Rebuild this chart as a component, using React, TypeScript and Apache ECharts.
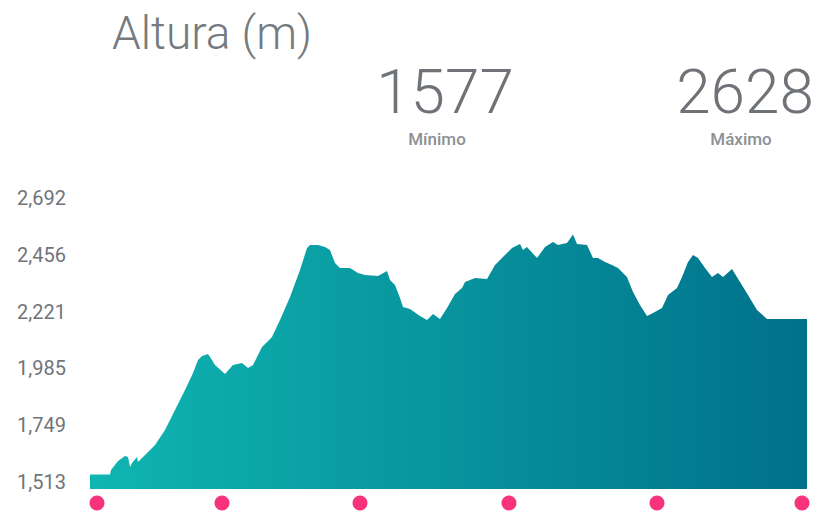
import React, { useEffect, useRef } from "react";
import * as echarts from "echarts";

// distance along the route (km) and elevation (m)
const DIST_KM = [
  0, 0.8, 0.84, 1.12, 1.4, 1.52, 1.6, 1.68, 1.88, 1.92, 2.08, 2.32, 2.6, 3.0, 3.4, 3.8, 4.12, 4.32, 4.48, 4.72,
  4.88, 5.0, 5.4, 5.72, 6.08, 6.32, 6.52, 6.88, 7.28, 7.6, 8.0, 8.4, 8.68, 8.8, 9.12, 9.4, 9.6, 9.8, 10.0, 10.4,
  10.72, 11.0, 11.52, 11.88, 12.0, 12.2, 12.4, 12.52, 12.8, 13.2, 13.48, 13.72, 14.0, 14.28, 14.6, 14.88, 15.0,
  15.4, 15.88, 16.2, 16.52, 16.88, 17.2, 17.32, 17.48, 17.88, 18.2, 18.52, 18.72, 19.08, 19.32, 19.48, 19.88,
  20.12, 20.32, 20.6, 20.88, 21.12, 21.48, 21.72, 22.0, 22.28, 22.52, 22.88, 23.12, 23.48, 23.68, 23.92, 24.12,
  24.32, 24.6, 24.88, 25.12, 25.32, 25.68, 26.0, 26.32, 26.68, 27.08, 28.68,
];
const ELEVATION_M = [
  1577, 1577, 1596, 1636, 1658, 1653, 1609, 1627, 1653, 1631, 1649, 1675, 1706, 1772, 1859, 1947, 2021, 2078, 2096, 2105,
  2078, 2056, 2017, 2056, 2065, 2043, 2056, 2135, 2179, 2254, 2355, 2473, 2569, 2582, 2582, 2574, 2560, 2504, 2482, 2482,
  2460, 2451, 2447, 2468, 2429, 2407, 2350, 2311, 2302, 2271, 2254, 2280, 2258, 2306, 2368, 2394, 2420,
  2438, 2433, 2495, 2530, 2569, 2587, 2560, 2574, 2525, 2574, 2596, 2582, 2591, 2628, 2587, 2582,
  2525, 2525, 2508, 2495, 2482, 2442, 2376, 2319, 2271, 2284, 2306, 2363, 2394, 2442, 2508, 2539,
  2525, 2482, 2442, 2460, 2442, 2477, 2420, 2363, 2298, 2258, 2258,
];
// waypoint markers (km)
const MARKER_KM = [0.28, 5.28, 10.8, 16.76, 22.68, 28.48];
const Y_TICK_LABELS = ["1,513", "1,749", "1,985", "2,221", "2,456", "2,692"];
const Y_MIN = 1513;
const Y_MAX = 2692;
const MIN_LABEL = "1577";
const MAX_LABEL = "2628";
const TITLE = "Altura (m)";

export default function App() {
  const ref = useRef<HTMLDivElement>(null);

  useEffect(() => {
    if (!ref.current) return;
    const chart = echarts.init(ref.current, null, { renderer: "svg" });
    const totalKm = DIST_KM[DIST_KM.length - 1];
    const span = Y_MAX - Y_MIN;
    const step = span / (Y_TICK_LABELS.length - 1);
    const font = "Roboto, 'Noto Sans', sans-serif";

    const bigNum = (text: string, x: number) => ({
      type: "text",
      x,
      y: 91,
      style: {
        text,
        font: `300 62px ${font}`,
        fill: "#6f7378",
        align: "center",
        verticalAlign: "middle",
      },
    });
    const caption = (text: string, x: number) => ({
      type: "text",
      x,
      y: 138.5,
      style: {
        text,
        font: `500 17px ${font}`,
        fill: "#8d9094",
        align: "center",
        verticalAlign: "middle",
      },
    });

    chart.setOption({
      animation: false,
      grid: [
        { left: 74, width: 10, top: 198, height: 284 },
        { left: 90, right: 18, top: 220, height: 269 },
        { left: 90, right: 18, top: 496, height: 14 },
      ],
      xAxis: [
        { gridIndex: 0, type: "value", show: false, min: 0, max: 1 },
        { gridIndex: 1, type: "value", show: false, min: 0, max: totalKm },
        { gridIndex: 2, type: "value", show: false, min: 0, max: totalKm },
      ],
      yAxis: [
        {
          gridIndex: 0,
          type: "value",
          min: 0,
          max: span,
          interval: step,
          axisLine: { show: false },
          axisTick: { show: false },
          splitLine: { show: false },
          axisLabel: {
            margin: 8,
            color: "#6f747a",
            fontSize: 20,
            fontFamily: font,
            formatter: (_v: number, i: number) => Y_TICK_LABELS[i],
          },
        },
        { gridIndex: 1, type: "value", show: false, min: Y_MIN, max: Y_MAX },
        { gridIndex: 2, type: "value", show: false, min: 0, max: 1 },
      ],
      graphic: [
        {
          type: "text",
          left: 112,
          top: 10,
          style: { text: TITLE, font: `300 46px ${font}`, fill: "#757a80" },
        },
        bigNum(MIN_LABEL, 445),
        caption("Mínimo", 437),
        bigNum(MAX_LABEL, 745),
        caption("Máximo", 741),
      ],
      series: [
        {
          type: "line",
          xAxisIndex: 1,
          yAxisIndex: 1,
          data: DIST_KM.map((d, i) => [d, ELEVATION_M[i]]),
          showSymbol: false,
          smooth: false,
          lineStyle: { width: 0 },
          areaStyle: {
            opacity: 1,
            origin: "start",
            color: new echarts.graphic.LinearGradient(0, 0, 1, 0, [
              { offset: 0, color: "#0fb6b1" },
              { offset: 1, color: "#00718a" },
            ]),
          },
        },
        {
          type: "scatter",
          xAxisIndex: 2,
          yAxisIndex: 2,
          data: MARKER_KM.map((d) => [d, 0.5]),
          symbolSize: 15,
          clip: false,
          itemStyle: { color: "#f5005a" },
        },
      ],
    });
    return () => chart.dispose();
  }, []);

  return (
    <div
      ref={ref}
      style={{ position: "fixed", left: 0, top: 0, width: 825, height: 514, background: "#fff" }}
    />
  );
}
